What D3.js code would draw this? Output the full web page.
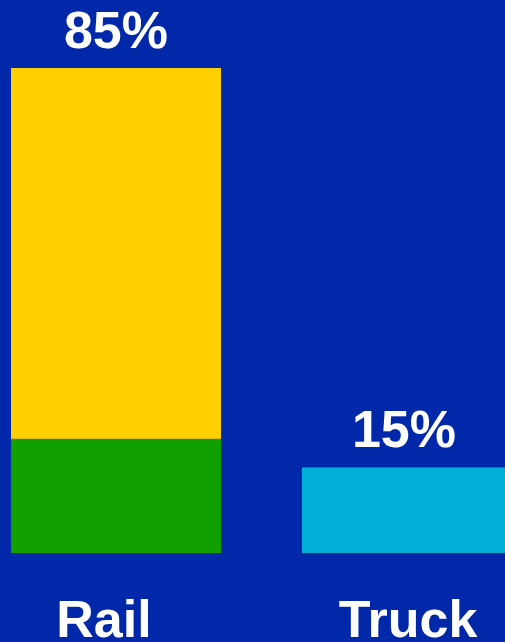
<!DOCTYPE html>
<html><head><meta charset="utf-8">
<script src="https://cdn.jsdelivr.net/npm/d3@7"></script>
<style>html,body{margin:0;padding:0;background:#0028A8;overflow:hidden}</style>
</head><body>
<script>
const categories = ["Rail", "Truck"];
const railSegments = [20, 65];      // green (bottom), yellow (top)
const truckValues = [15];
const totalLabels = ["85%", "15%"];

const W = 505, H = 642;
const svg = d3.select("body").append("svg").attr("width", W).attr("height", H);
svg.append("rect").attr("width", W).attr("height", H).attr("fill", "#0028A8");

const x = d3.scaleBand().domain(categories).range([11, 512]).paddingInner(81/291).paddingOuter(0);
const y = d3.scaleLinear().domain([0, 85]).range([553, 68]);

const segColors = ["#10A000", "#FFD000"];
let acc = 0;
railSegments.forEach((v, i) => {
  svg.append("rect")
    .attr("x", x("Rail")).attr("width", x.bandwidth())
    .attr("y", y(acc + v)).attr("height", y(acc) - y(acc + v))
    .attr("fill", segColors[i]);
  acc += v;
});
truckValues.forEach(v => {
  svg.append("rect")
    .attr("x", x("Truck")).attr("width", x.bandwidth())
    .attr("y", y(v)).attr("height", y(0) - y(v))
    .attr("fill", "#00AED6");
});

const totals = [d3.sum(railSegments), d3.sum(truckValues)];
const font = "'Liberation Sans', Arial, sans-serif";
categories.forEach((c, i) => {
  svg.append("text")
    .attr("x", x(c) + x.bandwidth()/2 + (i === 1 ? -3 : 0))
    .attr("y", y(totals[i]) - 20)
    .attr("text-anchor", "middle")
    .attr("font-family", font).attr("font-weight", "bold").attr("font-size", 52)
    .attr("fill", "#fff").text(totalLabels[i]);
  svg.append("text")
    .attr("x", x(c) + x.bandwidth()/2 + (i === 0 ? -12 : 1))
    .attr("y", 637)
    .attr("text-anchor", "middle")
    .attr("font-family", font).attr("font-weight", "bold").attr("font-size", 52)
    .attr("fill", "#fff").text(c);
});
</script>
</body></html>
